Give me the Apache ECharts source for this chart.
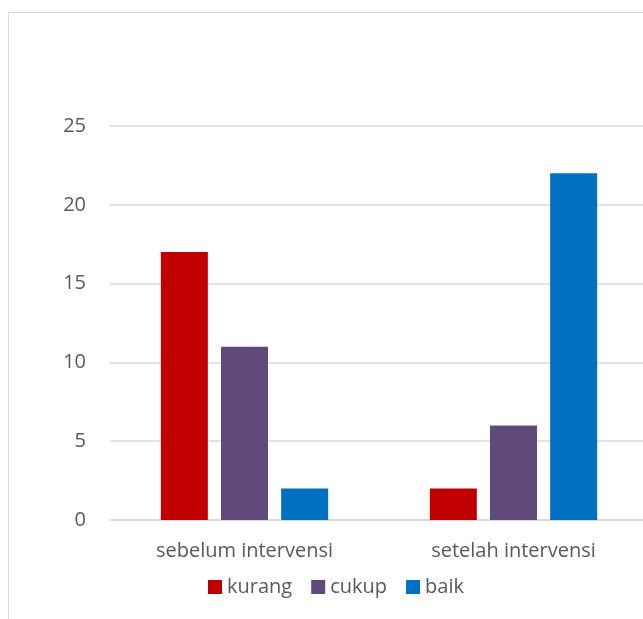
<!DOCTYPE html>
<html>
<head>
<meta charset="utf-8">
<script src="https://cdn.jsdelivr.net/npm/echarts@6/dist/echarts.min.js"></script>
<style>
  html, body { margin: 0; padding: 0; background: #fff; overflow: hidden; }
  #chart { width: 660px; height: 619px; }
</style>
</head>
<body>
<div id="chart"></div>
<script>
// kategori & nilai
var categories = ['sebelum intervensi', 'setelah intervensi'];
var kurang = [17, 2];
var cukup = [11, 6];
var baik = [2, 22];

var chart = echarts.init(document.getElementById('chart'));

var labelFont = "'Open Sans', 'Noto Sans', sans-serif";

var option = {
  animation: false,
  textStyle: { fontFamily: labelFont },
  graphic: [
    {
      type: 'rect',
      shape: { x: 8.5, y: 12.5, width: 700, height: 700 },
      style: { fill: 'none', stroke: '#d9d9d9', lineWidth: 1 },
      silent: true
    }
  ],
  legend: {
    top: 572,
    left: 203,
    itemWidth: 14,
    itemHeight: 14,
    itemGap: 19,
    icon: 'rect',
    textStyle: { color: '#595959', fontSize: 20, fontFamily: labelFont },
    data: ['kurang', 'cukup', 'baik']
  },
  grid: {
    left: 110,
    width: 538,
    top: 126,
    bottom: 99,
    containLabel: false
  },
  xAxis: {
    type: 'category',
    data: categories,
    axisLine: { lineStyle: { color: '#d9d9d9', width: 2 } },
    axisTick: { show: false },
    axisLabel: { color: '#595959', fontSize: 20, margin: 21, fontFamily: labelFont }
  },
  yAxis: {
    type: 'value',
    min: 0,
    max: 25,
    interval: 5,
    axisLine: { show: false },
    axisTick: { show: false },
    axisLabel: { color: '#595959', fontSize: 20, margin: 24, fontFamily: labelFont },
    splitLine: { lineStyle: { color: '#d9d9d9', width: 1.5 } }
  },
  series: [
    {
      name: 'kurang',
      type: 'bar',
      data: kurang,
      barWidth: 47,
      barGap: '28%',
      itemStyle: { color: '#C00000' }
    },
    {
      name: 'cukup',
      type: 'bar',
      data: cukup,
      barWidth: 47,
      barGap: '28%',
      itemStyle: { color: '#604A7B' }
    },
    {
      name: 'baik',
      type: 'bar',
      data: baik,
      barWidth: 47,
      barGap: '28%',
      itemStyle: { color: '#0070C0' }
    }
  ]
};

chart.setOption(option);
</script>
</body>
</html>
